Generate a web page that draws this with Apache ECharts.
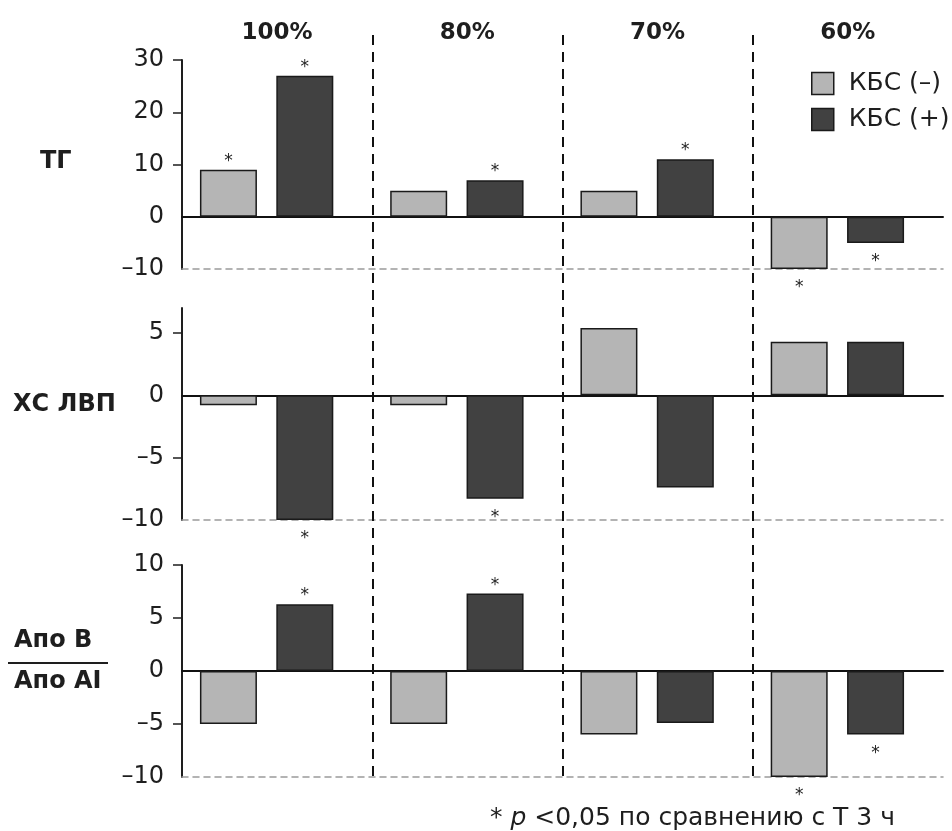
<!DOCTYPE html>
<html><head><meta charset="utf-8">
<script src="https://cdn.jsdelivr.net/npm/echarts@6/dist/echarts.min.js"></script>
<style>html,body{margin:0;padding:0;background:#fff}#c{width:952px;height:831px}</style>
</head><body><div id="c"></div>
<script>
// ---------- data ----------
const categories = ['100%', '80%', '70%', '60%'];
const seriesNames = ['КБС (–)', 'КБС (+)'];

const tgLight  = [9, 5, 5, -10];
const tgDark   = [27, 7, 11, -5];
const hdlLight = [-0.8, -0.8, 5.4, 4.3];
const hdlDark  = [-10, -8.3, -7.4, 4.3];
const apoLight = [-5, -5, -6, -10];
const apoDark  = [6.3, 7.3, -4.9, -6];

// significance marks (* p<0,05): 'above', 'below' or null
const tgLightStars  = ['above', null, null, 'below'];
const tgDarkStars   = ['above', 'above', 'above', 'below'];
const hdlLightStars = [null, null, null, null];
const hdlDarkStars  = ['below', 'below', null, null];
const apoLightStars = [null, null, null, 'below'];
const apoDarkStars  = ['above', 'above', null, 'below'];

const tgRange  = [-10, 30];
const hdlRange = [-10, 7];
const apoRange = [-10, 10];
const tgTickLabels  = [-10, 0, 10, 20, 30];
const hdlTickLabels = [-10, -5, 0, 5];
const apoTickLabels = [-10, -5, 0, 5, 10];

const rowLabels = ['ТГ', 'ХС ЛВП'];
const ratioTop = 'Апо В';
const ratioBottom = 'Апо AI';
const dividerPositions = [1, 2, 3];
const footnoteStar = '* ';
const footnoteP = 'p';
const footnoteRest = ' <0,05 по сравнению с Т 3 ч';

// ---------- styles / layout ----------
const FONT = 'DejaVu Sans, Liberation Sans, Arial, sans-serif';
const TXT = '#1e1e1e';
const LIGHT = '#b5b5b5';
const DARK = '#414141';
const panels = [
  { top: 60,  height: 209, light: tgLight,  dark: tgDark,  ls: tgLightStars,  ds: tgDarkStars,  range: tgRange,  labels: tgTickLabels },
  { top: 308, height: 212, light: hdlLight, dark: hdlDark, ls: hdlLightStars, ds: hdlDarkStars, range: hdlRange, labels: hdlTickLabels },
  { top: 565, height: 212, light: apoLight, dark: apoDark, ls: apoLightStars, ds: apoDarkStars, range: apoRange, labels: apoTickLabels }
];
const AX_LEFT = 182, AX_WIDTH = 761;
const BAR_LEFT = 171.5;

function starData(values, stars) {
  return values.map((v, i) => {
    const s = stars[i];
    if (!s) return { value: v, label: { show: false } };
    return {
      value: v,
      label: {
        show: true,
        position: s === 'above' ? 'top' : 'bottom',
        distance: s === 'above' ? 0 : 10
      }
    };
  });
}

const grid = [{ left: AX_LEFT, width: AX_WIDTH, top: 33, height: 743 }];
const xAxis = [
  { gridIndex: 0, type: 'category', data: categories, position: 'top', offset: -12,
    axisLine: { show: false }, axisTick: { show: false }, splitLine: { show: false },
    axisLabel: { margin: 0, fontFamily: FONT, fontSize: 23, fontWeight: 'bold', color: TXT } },
  { gridIndex: 0, type: 'value', min: 0, max: 4, show: false }
];
const yAxis = [{ gridIndex: 0, type: 'value', min: 0, max: 1, show: false }];
const series = [{
  type: 'line', xAxisIndex: 1, yAxisIndex: 0, data: [], silent: true,
  markLine: {
    silent: true, symbol: 'none', label: { show: false },
    lineStyle: { color: '#111', width: 2, type: [10, 7] },
    data: dividerPositions.map(p => ({ xAxis: p }))
  }
}];

panels.forEach((p, k) => {
  const gBar = grid.length;
  grid.push({ left: BAR_LEFT, width: AX_WIDTH, top: p.top, height: p.height });
  const gAx = grid.length;
  grid.push({ left: AX_LEFT, width: AX_WIDTH, top: p.top, height: p.height });

  const xBar = xAxis.length;
  xAxis.push({ gridIndex: gBar, type: 'category', data: categories, show: false });
  xAxis.push({ gridIndex: gAx, type: 'value', min: 0, max: 1, position: 'bottom',
    axisLine: { show: true, onZero: true, lineStyle: { color: '#111', width: 2 } },
    axisTick: { show: false }, axisLabel: { show: false }, splitLine: { show: false } });
  xAxis.push({ gridIndex: gAx, type: 'value', min: 0, max: 1, position: 'bottom',
    axisLine: { show: true, onZero: false, lineStyle: { color: '#9a9a9a', width: 1.5, type: [6, 5] } },
    axisTick: { show: false }, axisLabel: { show: false }, splitLine: { show: false } });

  const yBar = yAxis.length;
  yAxis.push({ gridIndex: gBar, type: 'value', min: p.range[0], max: p.range[1], show: false });
  yAxis.push({ gridIndex: gAx, type: 'value', min: p.range[0], max: p.range[1],
    axisLine: { show: true, onZero: false, lineStyle: { color: '#1e1e1e', width: 2 } },
    axisTick: { show: true, length: 9, lineStyle: { color: '#1e1e1e', width: 1.5 },
      customValues: p.labels.filter(v => v !== 0 && v !== p.range[0]) },
    axisLabel: { customValues: p.labels, margin: 18, fontFamily: FONT, fontSize: 24, color: TXT,
      formatter: v => (v < 0 ? '\u2013' + Math.abs(v) : String(v)) },
    splitLine: { show: false } });

  const lbl = { fontFamily: FONT, fontSize: 17, color: TXT, formatter: '*' };
  const item = c => ({ color: c, borderColor: '#1a1a1a', borderWidth: 1.5 });
  series.push({
    type: 'bar', name: seriesNames[0], xAxisIndex: xBar, yAxisIndex: yBar,
    barWidth: 57, barGap: '34%', itemStyle: item(LIGHT), label: lbl,
    data: starData(p.light, p.ls), z: 3
  });
  series.push({
    type: 'bar', name: seriesNames[1], xAxisIndex: xBar, yAxisIndex: yBar,
    barWidth: 57, barGap: '34%', itemStyle: item(DARK), label: lbl,
    data: starData(p.dark, p.ds), z: 3
  });
});

const option = {
  animation: false,
  backgroundColor: '#fff',
  textStyle: { fontFamily: FONT },
  legend: {
    data: seriesNames, orient: 'vertical', left: 811, top: 71, padding: 0,
    itemWidth: 22, itemHeight: 22, itemGap: 11, icon: 'rect',
    itemStyle: { borderColor: '#1a1a1a', borderWidth: 1.5 },
    textStyle: { fontFamily: FONT, fontSize: 25, color: TXT, padding: [0, 0, 0, 10] },
    selectedMode: false
  },
  grid, xAxis, yAxis, series,
  graphic: [
    { type: 'text', left: 40, top: 150, style: { text: rowLabels[0], font: 'bold 24px ' + FONT, fill: TXT } },
    { type: 'text', left: 13, top: 393, style: { text: rowLabels[1], font: 'bold 24px ' + FONT, fill: TXT } },
    { type: 'text', left: 14, top: 629, style: { text: ratioTop, font: 'bold 24px ' + FONT, fill: TXT } },
    { type: 'rect', shape: { x: 8, y: 662, width: 100, height: 2 }, style: { fill: TXT } },
    { type: 'text', left: 14, top: 670, style: { text: ratioBottom, font: 'bold 24px ' + FONT, fill: TXT } },
    { type: 'text', left: 490, top: 806, style: {
        text: footnoteStar + '{i|' + footnoteP + '}' + footnoteRest,
        font: '25px ' + FONT, fill: TXT,
        rich: { i: { fontStyle: 'italic', fontFamily: FONT, fontSize: 25, fill: TXT } } } }
  ]
};

const chart = echarts.init(document.getElementById('c'), null, { renderer: 'canvas' });
chart.setOption(option);
</script>
</body></html>
